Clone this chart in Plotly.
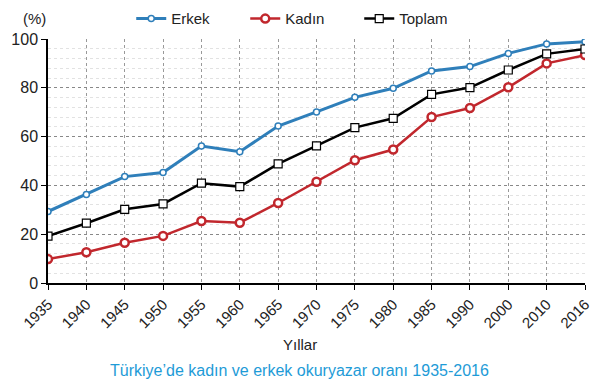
import plotly.graph_objects as go

years = ["1935", "1940", "1945", "1950", "1955", "1960", "1965", "1970",
         "1975", "1980", "1985", "1990", "2000", "2010", "2016"]
erkek = [29.3, 36.3, 43.6, 45.3, 56.1, 53.8, 64.3, 70.1, 76.1, 79.8, 86.9, 88.7, 94.1, 98.0, 98.9]
kadin = [9.8, 12.6, 16.5, 19.3, 25.4, 24.7, 32.8, 41.5, 50.3, 54.7, 68.0, 71.7, 80.2, 90.0, 93.4]
toplam = [19.2, 24.5, 30.2, 32.4, 40.9, 39.5, 48.8, 56.2, 63.7, 67.5, 77.3, 80.1, 87.3, 93.9, 95.9]

fig = go.Figure()
fig.add_trace(go.Scatter(x=years, y=erkek, name="Erkek", mode="lines+markers",
                         line=dict(color="#2f7fba", width=3),
                         marker=dict(symbol="circle", size=6, color="white",
                                     line=dict(color="#2f7fba", width=1.5))))
fig.add_trace(go.Scatter(x=years, y=kadin, name="Kadın", mode="lines+markers",
                         line=dict(color="#c1272d", width=2.5),
                         marker=dict(symbol="circle", size=8, color="white",
                                     line=dict(color="#c1272d", width=2.5))))
fig.add_trace(go.Scatter(x=years, y=toplam, name="Toplam", mode="lines+markers",
                         line=dict(color="black", width=2.5),
                         marker=dict(symbol="square", size=8, color="white",
                                     line=dict(color="black", width=1.2))))

fig.update_layout(
    width=591, height=380,
    margin=dict(l=40, r=14, t=31, b=105, autoexpand=False),
    paper_bgcolor="white", plot_bgcolor="white",
    font=dict(family="Liberation Sans, Arial, sans-serif", color="#222"),
    showlegend=True,
    legend=dict(orientation="h", x=0.155, y=1.015, xanchor="left", yanchor="bottom",
                font=dict(size=15, color="#222"), entrywidth=69, entrywidthmode="pixels",
                itemwidth=30, bgcolor="rgba(0,0,0,0)"),
    xaxis=dict(type="category", range=[0, 14], showgrid=True, gridcolor="#999",
               griddash="dot", gridwidth=1, showline=True, linecolor="black", linewidth=1.5,
               ticks="outside", ticklen=5, tickcolor="black", tickangle=-45,
               tickfont=dict(size=15, color="#222"), automargin=False),
    yaxis=dict(range=[0, 100], dtick=20, showgrid=True, gridcolor="#888", griddash="dot",
               gridwidth=1, showline=True, linecolor="black", linewidth=1.5,
               ticks="outside", ticklen=5, tickcolor="black", automargin=False,
               tickfont=dict(size=16, color="#222"), zeroline=False,
               minor=dict(dtick=4, showgrid=True, gridcolor="#e2e2e2", griddash="dot")),
    annotations=[
        dict(text="(%)", xref="paper", yref="paper", x=-0.05, y=1.082, xanchor="left",
             yanchor="middle", showarrow=False, font=dict(size=15, color="#222")),
        dict(text="Yıllar", xref="paper", yref="paper", x=0.469, y=-0.25,
             xanchor="center", yanchor="middle", showarrow=False,
             font=dict(size=15, color="#222")),
        dict(text="Türkiye’de kadın ve erkek okuryazar oranı 1935-2016", xref="paper",
             yref="paper", x=0.469, y=-0.357, xanchor="center", yanchor="middle",
             showarrow=False, font=dict(size=16, color="#1e9bd7")),
    ],
)

fig.write_html("out.html")
